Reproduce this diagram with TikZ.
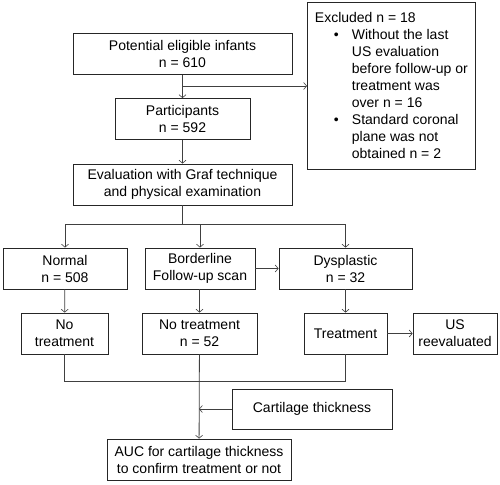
\documentclass[tikz,border=0pt]{standalone}
\usepackage{fontspec}
\usetikzlibrary{arrows.meta}
\setmainfont{Liberation Sans}
\newcommand{\excitem}{\hspace*{19pt}\makebox[18pt][l]{\textbullet}}
\newcommand{\excline}{\hspace*{37pt}}
\begin{document}
\begin{tikzpicture}[x=1pt,y=-1pt,
  line width=0.8pt,
  font=\fontsize{14}{17}\selectfont,
  >={Straight Barb[length=3pt,width=7pt,line width=0.6pt]},
  box/.style={draw=black!85, align=center, inner sep=0pt, minimum height=41pt},
  link/.style={draw=black!75, ->}]
\useasboundingbox (0,0) rectangle (500,484);
% first part: enrolment
\node[box, minimum width=219pt] (infants) at (182.5,54) {Potential eligible infants\\n = 610};
\node[box, minimum width=135pt] (part) at (182.5,119) {Participants\\n = 592};
\node[box, minimum width=168pt, minimum height=167pt,
  align=left, anchor=north west] (excl) at (307,2) {Excluded n = 18\\
\excitem Without the last\\
\excline US evaluation\\
\excline before follow-up or\\
\excline treatment was\\
\excline over n = 16\\
\excitem Standard coronal\\
\excline plane was not\\
\excline obtained n = 2};
\node[box, minimum width=219pt] (eval) at (182.5,184.5) {Evaluation with Graf technique\\and physical examination};
% groups
\node[box, minimum width=124pt] (normal) at (65,268.5) {Normal\\n = 508};
\node[box, minimum width=110pt] (border) at (200,268.5) {Borderline\\Follow-up scan};
\node[box, minimum width=133pt] (dysp) at (345.5,268.5) {Dysplastic\\n = 32};
\node[box, minimum width=87pt] (notreat) at (64.5,333.5) {No\\treatment};
\node[box, minimum width=115pt] (notreatb) at (199.5,333.5) {No treatment\\n = 52};
\node[box, minimum width=83pt] (treat) at (345.5,333.5) {Treatment};
\node[box, minimum width=84pt] (usre) at (455,333.5) {US\\reevaluated};
% outcome
\node[box, minimum width=160pt, minimum height=40pt] (cart) at (312,409) {Cartilage thickness};
\node[box, minimum width=184pt] (auc) at (199,459.5) {AUC for cartilage thickness\\to confirm treatment or not};
\coordinate (split) at (182.5,86);
\coordinate (hub) at (182.5,224);
\coordinate (join) at (199.5,381);
\draw[link] (infants) -- (part);
\draw[link] (split) -- (split -| excl.west);
\draw[link] (part) -- (eval);
\draw[draw=black!75] (eval.south) -- (hub);
\draw[draw=black!75] (hub -| normal) -- (hub -| dysp);
\draw[link] (hub -| normal) -- (normal);
\draw[link] (hub -| border) -- (border);
\draw[link] (hub -| dysp) -- (dysp);
\draw[link] (border) -- (dysp);
\draw[link] (normal) -- (notreat);
\draw[link] (border.south -| notreatb) -- (notreatb);
\draw[link] (dysp) -- (treat);
\draw[link] (treat) -- (usre);
\draw[draw=black!75] (notreat.south) -- (join -| notreat) -- (join -| treat) -- (treat.south);
\draw[link] (notreatb) -- (auc);
\draw[link] (cart) -- (cart.west -| auc);
\end{tikzpicture}
\end{document}
